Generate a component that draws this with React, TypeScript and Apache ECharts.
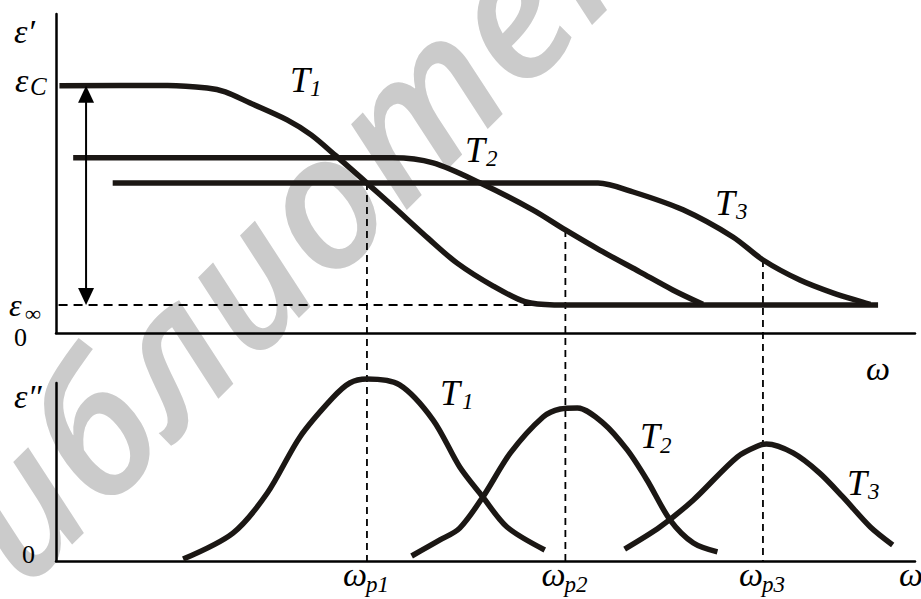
import { useEffect, useRef } from "react";
import * as echarts from "echarts";

// Frequency axis in arbitrary units (0..100 across the plot width)
const OMEGA_P = [36.2, 59.3, 82.3];
const OMEGA_P_LABELS = ["1", "2", "3"];
const TEMP_LABELS = ["1", "2", "3"];

// Real part ε′(ω): static and high-frequency levels
const EPS_C = 77.5;
const EPS_INF = 8.8;
const ARROW_X = 3.5;
const EPS_INF_DASH_END = 56.0;

const EPS1_T1 = [
  [0.4, 77.5], [13.0, 77.6], [17.6, 76.8], [19.7, 75.6], [22.6, 72.1],
  [26.9, 66.8], [29.7, 62.1], [32.6, 55.5], [36.2, 47.0], [39.2, 39.8],
  [43.4, 29.5], [46.7, 21.9], [50.9, 14.7], [54.6, 9.8], [58.0, 8.8], [95.7, 8.8],
];
const EPS1_T2 = [
  [2.0, 54.9], [39.2, 54.9], [43.9, 53.3], [49.4, 47.0], [55.5, 38.6],
  [59.3, 32.3], [63.3, 26.0], [68.0, 19.1], [71.8, 13.5], [75.3, 9.0],
];
const EPS1_T3 = [
  [6.6, 47.0], [63.1, 47.0], [67.2, 44.2], [73.0, 38.6], [78.8, 30.1],
  [82.3, 22.9], [86.6, 16.6], [90.5, 12.5], [93.9, 9.7], [94.8, 9.0],
];
// ε′ at each loss peak frequency (where the dashed guides start)
const EPS1_AT_PEAK = [47.0, 32.3, 22.9];

// Imaginary part ε″(ω)
const EPS2_T1 = [
  [14.8, 1.1], [20.6, 15.7], [24.6, 38.2], [28.4, 69.7], [32.2, 91.6],
  [34.2, 100.0], [36.2, 102.2], [40.0, 98.9], [43.9, 79.2], [47.0, 52.8],
  [49.6, 36.5], [52.5, 19.1], [56.9, 6.2],
];
const EPS2_T2 = [
  [41.4, 2.8], [44.7, 11.8], [47.0, 18.5], [49.7, 36.0], [52.9, 60.7],
  [56.7, 80.9], [58.7, 85.4], [60.7, 86.0], [63.7, 77.5], [66.5, 62.4],
  [68.8, 45.5], [71.5, 23.0], [74.2, 10.1], [77.0, 5.1],
];
const EPS2_T3 = [
  [66.2, 6.7], [70.3, 19.1], [74.2, 34.3], [79.3, 58.4], [82.0, 65.2],
  [82.7, 65.7], [85.8, 60.7], [88.9, 49.4], [91.6, 36.0], [94.8, 19.1], [97.4, 9.0],
];

const INK = "#1b1714";
const AXIS = "#000000";
const SERIF = '"Liberation Serif", "Times New Roman", serif';

const axisBase = {
  type: "value" as const,
  axisLine: { show: true, onZero: false, lineStyle: { color: AXIS, width: 2.5 } },
  axisTick: { show: false },
  axisLabel: { show: false },
  splitLine: { show: false },
};

function curve(data: number[][], gridIdx: number) {
  return {
    type: "line" as const,
    xAxisIndex: gridIdx,
    yAxisIndex: gridIdx,
    data,
    symbol: "none",
    smooth: 0.3,
    clip: false,
    lineStyle: { color: INK, width: 5.5, cap: "butt" as const },
    silent: true,
  };
}

function label(
  text: string,
  x: number,
  y: number,
  size: number,
  italic = true,
  align: "left" | "center" | "right" = "left"
) {
  return {
    type: "text" as const,
    x,
    y,
    z: 20,
    silent: true,
    style: {
      text,
      fill: "#000",
      fontFamily: SERIF,
      fontSize: size,
      fontStyle: italic ? "italic" : "normal",
      align,
      verticalAlign: "middle",
    },
  };
}

export default function App() {
  const ref = useRef<HTMLDivElement>(null);

  useEffect(() => {
    document.body.style.margin = "0";
    if (!ref.current) return;
    const chart = echarts.init(ref.current, null, { renderer: "svg" });

    chart.setOption({
      animation: false,
      backgroundColor: "#ffffff",
      grid: [
        { left: 56, top: 14, width: 859, height: 319 },
        { left: 56, top: 383, width: 859, height: 178 },
      ],
      xAxis: [
        { ...axisBase, gridIndex: 0, min: 0, max: 100 },
        { ...axisBase, gridIndex: 1, min: 0, max: 100 },
      ],
      yAxis: [
        { ...axisBase, gridIndex: 0, min: 0, max: 100 },
        { ...axisBase, gridIndex: 1, min: 0, max: 100 },
      ],
      series: [
        curve(EPS1_T1, 0),
        curve(EPS1_T2, 0),
        curve(EPS1_T3, 0),
        {
          type: "line",
          xAxisIndex: 0,
          yAxisIndex: 0,
          data: [
            [0.3, EPS_INF],
            [EPS_INF_DASH_END, EPS_INF],
          ],
          symbol: "none",
          z: 1,
          lineStyle: { color: AXIS, width: 2, type: [9, 6] },
          silent: true,
        },
        curve(EPS2_T1, 1),
        curve(EPS2_T2, 1),
        curve(EPS2_T3, 1),
      ],
    });

    const p0 = (x: number, y: number) =>
      chart.convertToPixel({ gridIndex: 0 }, [x, y]) as number[];
    const p1 = (x: number, y: number) =>
      chart.convertToPixel({ gridIndex: 1 }, [x, y]) as number[];

    const graphics: any[] = [];

    // Watermark
    graphics.push({
      type: "text",
      x: -100,
      y: 615,
      rotation: Math.PI / 4,
      z: -5,
      silent: true,
      style: {
        text: "библиотека",
        fill: "#cbcbcb",
        fontFamily: '"Open Sans", sans-serif',
        fontStyle: "italic",
        fontWeight: 600,
        fontSize: 185,
        align: "left",
        verticalAlign: "middle",
      },
    });

    // Dashed guides from ε′ curves down to the ω axis of the loss panel
    OMEGA_P.forEach((w, i) => {
      const a = p0(w, EPS1_AT_PEAK[i]);
      const b = p1(w, 0);
      graphics.push({
        type: "line",
        z: 1,
        silent: true,
        shape: { x1: a[0], y1: a[1], x2: b[0], y2: b[1] },
        style: { stroke: AXIS, lineWidth: 1.8, lineDash: [7, 5] },
      });
    });

    // Double-headed arrow between ε_C and ε_∞
    const at = p0(ARROW_X, EPS_C);
    const ab = p0(ARROW_X, EPS_INF);
    const ah = 17;
    const aw = 8;
    graphics.push({
      type: "line",
      z: 5,
      silent: true,
      shape: { x1: at[0], y1: at[1] + ah - 2, x2: ab[0], y2: ab[1] - ah + 2 },
      style: { stroke: AXIS, lineWidth: 2 },
    });
    graphics.push({
      type: "polygon",
      z: 5,
      silent: true,
      shape: { points: [[at[0], at[1]], [at[0] - aw, at[1] + ah], [at[0] + aw, at[1] + ah]] },
      style: { fill: AXIS },
    });
    graphics.push({
      type: "polygon",
      z: 5,
      silent: true,
      shape: { points: [[ab[0], ab[1]], [ab[0] - aw, ab[1] - ah], [ab[0] + aw, ab[1] - ah]] },
      style: { fill: AXIS },
    });

    // Axis symbols
    graphics.push(label("ε′", 14, 31, 34));
    graphics.push(label("ε", 15, 80, 34));
    graphics.push(label("C", 30, 86, 25));
    graphics.push(label("ε", 9, 305, 32));
    graphics.push(label("∞", 25, 313, 22));
    graphics.push(label("0", 14, 337, 26, false));
    graphics.push(label("ω", 866, 368, 34));
    graphics.push(label("ε″", 14, 396, 34));
    graphics.push(label("0", 22, 554, 26, false));
    graphics.push(label("ω", 899, 574, 34));

    // Peak frequency labels under the loss axis
    OMEGA_P.forEach((w, i) => {
      const b = p1(w, 0);
      graphics.push(label("ω", b[0] - 24, 574, 34));
      graphics.push(label("p" + OMEGA_P_LABELS[i], b[0] - 1, 584, 23));
    });

    // Temperature tags
    const tags = [
      [290, 80, 310, 88],
      [465, 150, 486, 158],
      [715, 203, 736, 211],
      [440, 393, 462, 401],
      [640, 436, 660, 445],
      [847, 483, 868, 491],
    ];
    tags.forEach((t, i) => {
      graphics.push(label("T", t[0], t[1], 36));
      graphics.push(label(TEMP_LABELS[i % 3], t[2], t[3], 23));
    });

    chart.setOption({ graphic: graphics });

    return () => chart.dispose();
  }, []);

  return <div ref={ref} style={{ width: 921, height: 599 }} />;
}
